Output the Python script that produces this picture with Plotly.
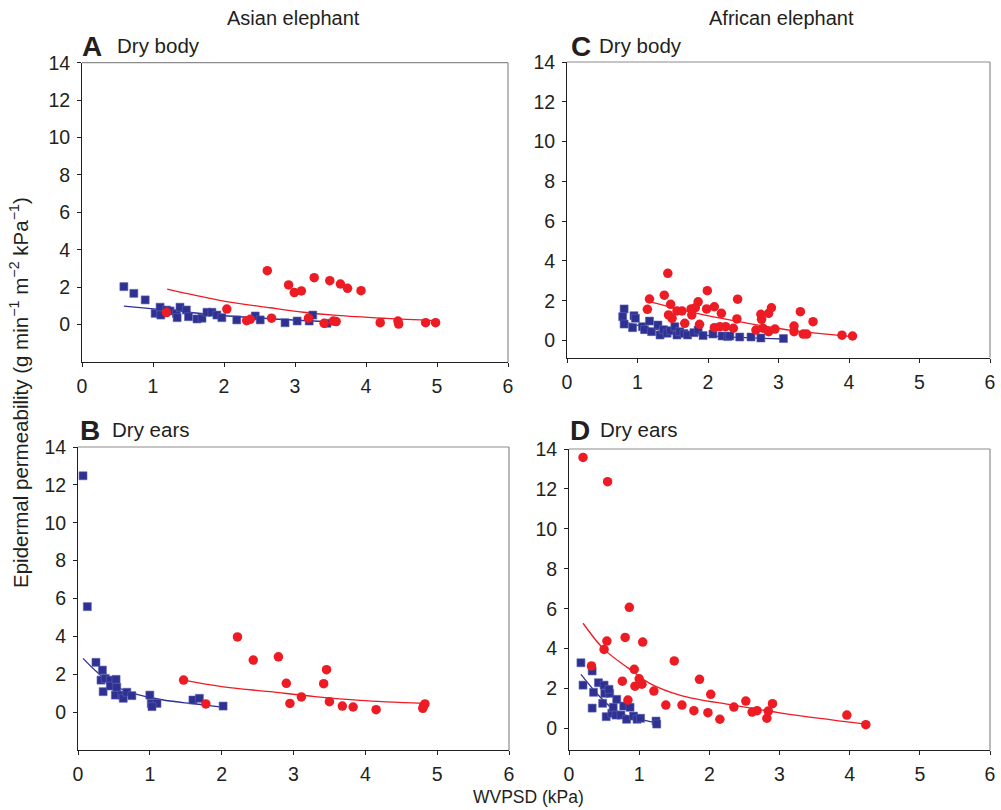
import plotly.graph_objects as go

# ---------------- data ----------------
# Panel A: Asian elephant, dry body
a_blue_x = [0.59, 0.73, 0.89, 1.03, 1.10, 1.11, 1.19, 1.24, 1.33, 1.34, 1.38, 1.47, 1.50, 1.62,
            1.69, 1.76, 1.83, 1.90, 1.97, 2.18, 2.44, 2.51, 2.86, 3.03, 3.20, 3.25, 3.45]
a_blue_y = [2.03, 1.67, 1.32, 0.60, 0.93, 0.51, 0.78, 0.73, 0.60, 0.37, 0.93, 0.78, 0.42, 0.30,
            0.34, 0.66, 0.66, 0.51, 0.37, 0.25, 0.46, 0.25, 0.10, 0.19, 0.19, 0.51, 0.07]
a_red_x = [1.19, 2.04, 2.32, 2.37, 2.61, 2.67, 2.91, 2.99, 3.09, 3.19, 3.27, 3.41, 3.49, 3.54,
           3.58, 3.64, 3.74, 3.93, 4.20, 4.45, 4.46, 4.84, 4.98]
a_red_y = [0.64, 0.83, 0.21, 0.28, 2.88, 0.34, 2.12, 1.71, 1.80, 0.34, 2.51, 0.07, 2.35, 0.19,
           0.16, 2.17, 1.94, 1.81, 0.10, 0.19, 0.03, 0.10, 0.10]
a_blue_fit_x = [0.59, 1.24, 1.94, 2.70, 3.45]
a_blue_fit_y = [0.99, 0.76, 0.50, 0.30, 0.16]
a_red_fit_x = [1.20, 1.94, 2.65, 3.12, 3.59, 4.29, 4.98]
a_red_fit_y = [1.89, 1.30, 0.90, 0.66, 0.49, 0.33, 0.21]

# Panel B: Asian elephant, dry ears
b_blue_x = [0.07, 0.13, 0.25, 0.34, 0.32, 0.38, 0.35, 0.45, 0.45, 0.53, 0.52, 0.54, 0.61, 0.63,
            0.68, 0.75, 1.00, 1.02, 1.10, 1.03, 1.60, 1.69, 2.02]
b_blue_y = [12.48, 5.57, 2.63, 2.22, 1.69, 1.78, 1.08, 1.69, 1.38, 1.73, 0.90, 1.31, 0.90, 0.73,
            1.05, 0.87, 0.90, 0.46, 0.46, 0.29, 0.64, 0.73, 0.32]
b_red_x = [1.47, 1.78, 2.22, 2.44, 2.79, 2.90, 2.95, 3.11, 3.42, 3.46, 3.50, 3.68, 3.83, 4.15,
           4.80, 4.83, 4.81]
b_red_y = [1.69, 0.43, 3.97, 2.75, 2.92, 1.52, 0.46, 0.80, 1.50, 2.24, 0.55, 0.32, 0.27, 0.13,
           0.20, 0.43, 0.32]
b_blue_fit_x = [0.07, 0.26, 0.49, 0.77, 1.19, 1.56, 1.79, 2.02]
b_blue_fit_y = [2.84, 2.13, 1.43, 0.99, 0.64, 0.46, 0.37, 0.25]
b_red_fit_x = [1.47, 2.00, 2.67, 3.30, 3.93, 4.81]
b_red_fit_y = [1.69, 1.35, 1.08, 0.82, 0.62, 0.46]

# Panel C: African elephant, dry body
c_blue_x = [0.81, 0.79, 0.81, 0.93, 0.95, 0.97, 1.07, 1.10, 1.17, 1.20, 1.29, 1.32, 1.37, 1.42,
            1.47, 1.53, 1.56, 1.60, 1.66, 1.71, 1.80, 1.86, 1.93, 2.07, 2.20, 2.28, 2.31, 2.45,
            2.61, 2.75, 3.07]
c_blue_y = [1.59, 1.20, 0.83, 0.65, 1.25, 1.12, 0.70, 0.55, 0.98, 0.45, 0.78, 0.28, 0.55, 0.37,
            0.50, 0.70, 0.28, 0.45, 0.35, 0.28, 0.40, 0.53, 0.25, 0.33, 0.23, 0.20, 0.23, 0.18,
            0.18, 0.13, 0.10]
c_red_x = [1.43, 1.17, 1.14, 1.38, 1.47, 1.44, 1.49, 1.56, 1.63, 1.67, 1.76, 1.77, 1.82, 1.86,
           1.88, 1.99, 1.98, 2.09, 2.19, 2.09, 2.17, 2.25, 2.42, 2.41, 2.36, 2.68, 2.75, 2.76,
           2.86, 2.90, 2.78, 2.86, 2.95, 3.22, 3.22, 3.31, 3.35, 3.40, 3.49, 3.90, 4.05]
c_red_y = [3.38, 2.09, 1.57, 2.28, 1.82, 1.29, 1.12, 1.49, 1.49, 0.87, 1.59, 1.29, 1.65, 1.95,
           0.82, 2.51, 1.59, 1.70, 1.37, 0.65, 0.70, 0.70, 2.08, 1.09, 0.62, 0.53, 1.32, 1.07,
           1.37, 1.65, 0.62, 0.45, 0.58, 0.73, 0.45, 1.45, 0.33, 0.33, 0.95, 0.27, 0.23]
c_blue_fit_x = [0.80, 1.20, 1.60, 2.20, 3.08]
c_blue_fit_y = [0.95, 0.60, 0.37, 0.20, 0.08]
c_red_fit_x = [1.18, 1.80, 2.36, 3.21, 4.06]
c_red_fit_y = [1.95, 1.40, 1.00, 0.50, 0.20]

# Panel D: African elephant, dry ears
d_blue_x = [0.17, 0.20, 0.33, 0.35, 0.33, 0.42, 0.50, 0.48, 0.51, 0.58, 0.57, 0.68, 0.53, 0.61,
            0.63, 0.67, 0.74, 0.78, 0.87, 0.82, 0.92, 0.97, 1.02, 1.24, 1.25]
d_blue_y = [3.29, 2.17, 2.88, 1.81, 1.02, 2.29, 2.17, 1.26, 1.76, 1.76, 1.96, 1.46, 0.59, 0.76,
            1.06, 0.67, 0.67, 1.12, 1.06, 0.46, 0.62, 0.46, 0.51, 0.37, 0.22]
d_red_x = [0.20, 0.55, 0.86, 0.80, 1.05, 0.54, 0.50, 0.32, 0.93, 1.00, 1.04, 0.94, 0.76, 0.84,
           1.21, 1.50, 1.38, 1.61, 1.78, 1.86, 1.98, 2.02, 2.15, 2.35, 2.52, 2.61, 2.68, 2.84,
           2.82, 2.90, 3.96, 4.23]
d_red_y = [13.58, 12.36, 6.07, 4.56, 4.33, 4.38, 3.96, 3.13, 2.96, 2.49, 2.22, 2.12, 2.37, 1.42,
           1.87, 3.38, 1.17, 1.17, 0.89, 2.46, 0.79, 1.71, 0.46, 1.07, 1.37, 0.82, 0.89, 0.87,
           0.51, 1.24, 0.67, 0.19]
d_blue_fit_x = [0.17, 0.44, 0.68, 0.96, 1.25]
d_blue_fit_y = [2.71, 1.59, 0.84, 0.51, 0.29]
d_red_fit_x = [0.20, 0.50, 0.85, 1.15, 1.60, 2.34, 3.05, 4.23]
d_red_fit_y = [5.27, 3.96, 3.01, 2.26, 1.65, 1.17, 0.76, 0.22]

x_ticks = [0, 1, 2, 3, 4, 5, 6]
y_ticks = [0, 2, 4, 6, 8, 10, 12, 14]

# ---------------- styling ----------------
W, H = 1001, 810
RED = "#ED1C24"
BLUE = "#2E3192"
FONT = "Arial, Liberation Sans, sans-serif"
TXT = "#231F20"


def px_x(p):
    return p / W


def px_y(p):
    return 1 - p / H


fig = go.Figure()

panels = [
    ("", a_blue_x, a_blue_y, a_red_x, a_red_y, (a_blue_fit_x, a_blue_fit_y), (a_red_fit_x, a_red_fit_y)),
    ("2", c_blue_x, c_blue_y, c_red_x, c_red_y, (c_blue_fit_x, c_blue_fit_y), (c_red_fit_x, c_red_fit_y)),
    ("3", b_blue_x, b_blue_y, b_red_x, b_red_y, (b_blue_fit_x, b_blue_fit_y), (b_red_fit_x, b_red_fit_y)),
    ("4", d_blue_x, d_blue_y, d_red_x, d_red_y, (d_blue_fit_x, d_blue_fit_y), (d_red_fit_x, d_red_fit_y)),
]

for suf, bx, by, rx, ry, bfit, rfit in panels:
    xa, ya = "x" + suf, "y" + suf
    fig.add_trace(go.Scatter(x=bfit[0], y=bfit[1], mode="lines", xaxis=xa, yaxis=ya,
                             line=dict(color=BLUE, width=1.3, shape="spline"), hoverinfo="skip"))
    fig.add_trace(go.Scatter(x=rfit[0], y=rfit[1], mode="lines", xaxis=xa, yaxis=ya,
                             line=dict(color=RED, width=1.3, shape="spline"), hoverinfo="skip"))
    fig.add_trace(go.Scatter(x=bx, y=by, mode="markers", xaxis=xa, yaxis=ya,
                             marker=dict(symbol="square", size=8, color=BLUE,
                                         line=dict(width=0.6, color="#5B62B0"))))
    fig.add_trace(go.Scatter(x=rx, y=ry, mode="markers", xaxis=xa, yaxis=ya,
                             marker=dict(symbol="circle", size=9.5, color=RED, line=dict(width=0))))

# axis geometry (pixel positions)
geom = {
    "": dict(x0=82, x1=508, top=62.7, bottom=362, yr=[-2, 14]),
    "2": dict(x0=567, x1=990, top=62, bottom=357.5, yr=[-0.85, 14]),
    "3": dict(x0=78, x1=509, top=447, bottom=750, yr=[-2, 14]),
    "4": dict(x0=569, x1=990, top=449, bottom=750, yr=[-1.08, 14]),
}

layout_axes = {}
shapes = []
for suf, g in geom.items():
    common = dict(showgrid=False, zeroline=False, showline=True, linecolor=TXT, linewidth=1,
                  ticks="outside", ticklen=4, tickwidth=1, tickcolor=TXT, automargin=False,
                  tickfont=dict(family=FONT, size=19.5, color=TXT), ticklabelstandoff=3)
    layout_axes["xaxis" + suf] = dict(common, domain=[px_x(g["x0"]), px_x(g["x1"])],
                                      range=[0, 6], tickvals=x_ticks, anchor="y" + suf, fixedrange=True)
    layout_axes["yaxis" + suf] = dict(common, domain=[px_y(g["bottom"]), px_y(g["top"])],
                                      range=g["yr"], tickvals=y_ticks, anchor="x" + suf, fixedrange=True)
    xd, yd = ("x" if not suf else "x" + suf) + " domain", ("y" if not suf else "y" + suf) + " domain"
    shapes.append(dict(type="line", xref=xd, yref=yd, x0=0, x1=1, y0=1, y1=1,
                       line=dict(color="#8C8C8C", width=1.2)))
    shapes.append(dict(type="line", xref=xd, yref=yd, x0=1, x1=1, y0=0, y1=1,
                       line=dict(color="#8C8C8C", width=1.2)))

annotations = []


def ann(text, x, y, size, bold=False, xanchor="center", angle=0):
    annotations.append(dict(text=("<b>%s</b>" % text) if bold else text, x=px_x(x), y=px_y(y),
                            xref="paper", yref="paper", showarrow=False, xanchor=xanchor,
                            yanchor="middle", textangle=angle,
                            font=dict(family=FONT, size=size, color=TXT)))


ann("Asian elephant", 293, 18, 20)
ann("African elephant", 781, 18, 20)
ann("A", 80, 46, 28, bold=True, xanchor="left")
ann("Dry body", 115, 45, 20.5, xanchor="left")
ann("C", 569, 46, 28, bold=True, xanchor="left")
ann("Dry body", 597, 45, 20.5, xanchor="left")
ann("B", 78, 430, 28, bold=True, xanchor="left")
ann("Dry ears", 110, 429, 20.5, xanchor="left")
ann("D", 568, 430, 28, bold=True, xanchor="left")
ann("Dry ears", 598, 429, 20.5, xanchor="left")
ann("WVPSD (kPa)", 528, 797, 17.5)
ann("Epidermal permeability (g min<sup>\u22121</sup> m<sup>\u22122</sup> kPa<sup>\u22121</sup>)",
    19, 393, 20.5, angle=-90)

fig.update_layout(
    width=W, height=H, margin=dict(l=0, r=0, t=0, b=0, pad=0, autoexpand=False),
    paper_bgcolor="white", plot_bgcolor="white", showlegend=False,
    font=dict(family=FONT, color=TXT),
    shapes=shapes, annotations=annotations, **layout_axes,
)

fig.write_html("out.html")
